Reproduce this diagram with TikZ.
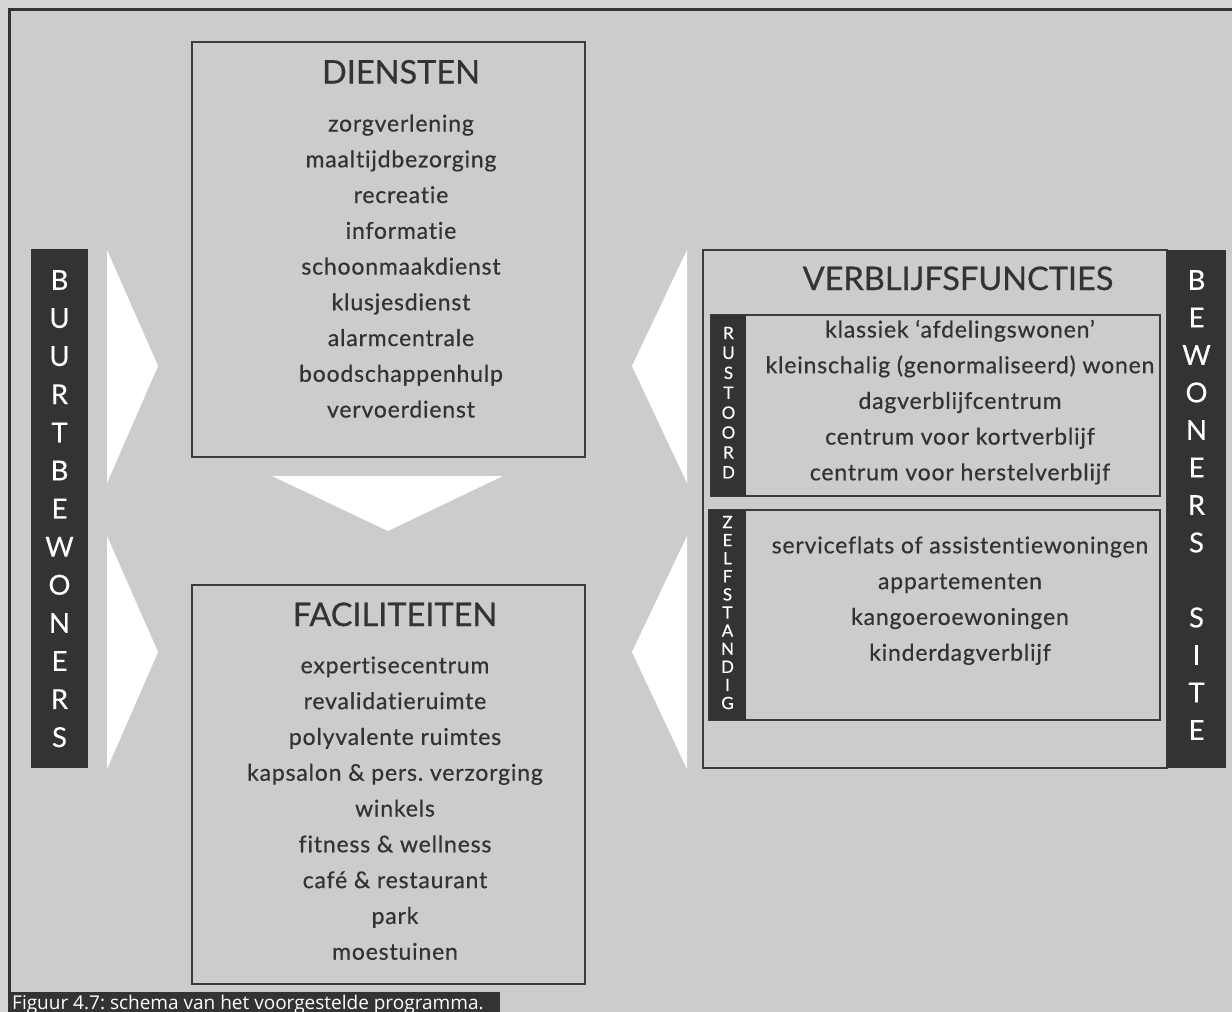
\documentclass[tikz,border=0pt]{standalone}
\usepackage{fontspec}
\setmainfont{Lato}
\newfontfamily\itemfont{Lato}[FakeBold=0.6, LetterSpace=3.5, Ligatures=NoCommon]
\newfontfamily\titlefont{Lato}[FakeBold=0.6, Ligatures=NoCommon]
\newfontfamily\letterfont{Lato}[FakeBold=0.3]
\newfontfamily\capfont{Open Sans}
\definecolor{pagebg}{HTML}{D4D5D7}
\definecolor{panel}{HTML}{CDCCCA}
\definecolor{ink}{HTML}{333333}
\definecolor{boxline}{HTML}{3C3C3C}
\tikzset{
  item/.style={text=ink, font=\itemfont\fontsize{23}{23}\selectfont, inner sep=0pt, anchor=base},
  boxtitle/.style={text=ink, font=\titlefont\fontsize{32.5}{32.5}\selectfont, inner sep=0pt, anchor=base},
  bigletter/.style={text=white, font=\letterfont\fontsize{27.5}{27.5}\selectfont, inner sep=0pt},
  smallletter/.style={text=white, font=\letterfont\fontsize{17}{17}\selectfont, inner sep=0pt},
  framebox/.style={draw=boxline, line width=2.2pt, inner sep=0pt, outer sep=0pt, anchor=north west},
  subbox/.style={draw=boxline, line width=1.8pt, inner sep=0pt, outer sep=0pt, anchor=north west},
  darkbar/.style={fill=ink, inner sep=0pt, outer sep=0pt, anchor=north west},
  arrowshape/.style={fill=white},
}
\begin{document}
\frenchspacing
\begin{tikzpicture}[x=1pt,y=-1pt]
\useasboundingbox (0,0) rectangle (1232,1012);
\fill[pagebg] (0,0) rectangle (1232,1012);
\fill[panel] (9,9) rectangle (1232,1012);
\draw[ink, line width=3pt] (9,1012) -- (9,9) -- (1232,9);

% left bar
\node[darkbar, minimum width=57pt, minimum height=519pt] (buurt) at (31,249) {};
\foreach \L [count=\k from 0] in {B,U,U,R,T,B,E,W,O,N,E,R,S}
  \node[bigletter] (bl\k) at (59.5,280+38.1*\k) {\L};

% left arrows
\fill[arrowshape] (107,250) -- (158,366) -- (107,483) -- cycle;
\fill[arrowshape] (107,536) -- (158,652) -- (107,769) -- cycle;

% DIENSTEN
\node[framebox, minimum width=393pt, minimum height=415pt] (diensten) at (192,42) {};
\node[boxtitle] (dtitle) at (401,83.5) {DIENSTEN};
\foreach \t [count=\k from 0] in {zorgverlening,maaltijdbezorging,recreatie,informatie,schoonmaakdienst,klusjesdienst,alarmcentrale,boodschappenhulp,vervoerdienst}
  \node[item] (d\k) at (401,131.5+35.75*\k) {\t};

% down arrow
\fill[arrowshape] (272,476) -- (503,476) -- (388,531) -- cycle;

% FACILITEITEN
\node[framebox, minimum width=393pt, minimum height=399pt] (facil) at (192,585) {};
\node[boxtitle] (ftitle) at (395,626) {FACILITEITEN};
\foreach \t [count=\k from 0] in {expertisecentrum,revalidatieruimte,polyvalente ruimtes,kapsalon \& pers. verzorging,winkels,fitness \& wellness,café \& restaurant,park,moestuinen}
  \node[item] (f\k) at (395,673.3+35.8*\k) {\t};

% right arrows
\fill[arrowshape] (687,250) -- (632,366) -- (687,483) -- cycle;
\fill[arrowshape] (687,536) -- (632,652) -- (687,769) -- cycle;

% VERBLIJFSFUNCTIES
\node[framebox, minimum width=464pt, minimum height=518pt] (verblijf) at (703,250) {};
\node[darkbar, minimum width=59pt, minimum height=518pt] (site) at (1167,250) {};
\foreach \L/\k in {B/0,E/1,W/2,O/3,N/4,E/5,R/6,S/7,S/9,I/10,T/11,E/12}
  \node[bigletter] (sl\k) at (1196.5,280+37.5*\k) {\L};
\node[boxtitle] (vtitle) at (958,290) {VERBLIJFSFUNCTIES};

% rustoord
\node[subbox, minimum width=449pt, minimum height=181pt] (rust) at (711,315) {};
\node[darkbar, minimum width=35pt, minimum height=181pt] (rustbar) at (711,315) {};
\foreach \L [count=\k from 0] in {R,U,S,T,O,O,R,D}
  \node[smallletter] (rl\k) at (728.5,333+19.9*\k) {\L};
\foreach \t [count=\k from 0] in {klassiek ‘afdelingswonen’,kleinschalig (genormaliseerd) wonen,dagverblijfcentrum,centrum voor kortverblijf,centrum voor herstelverblijf}
  \node[item] (r\k) at (960,337.5+35.7*\k) {\t};

% zelfstandig
\node[subbox, minimum width=451pt, minimum height=210pt] (zelf) at (709,510) {};
\node[darkbar, minimum width=37pt, minimum height=210pt] (zelfbar) at (709,510) {};
\foreach \L [count=\k from 0] in {Z,E,L,F,S,T,A,N,D,I,G}
  \node[smallletter] (zl\k) at (727.5,522+18.1*\k) {\L};
\foreach \t [count=\k from 0] in {serviceflats of assistentiewoningen,appartementen,kangoeroewoningen,kinderdagverblijf}
  \node[item] (z\k) at (960,553.3+35.8*\k) {\t};

% caption
\node[darkbar, minimum width=492pt, minimum height=20pt] (capbox) at (8,992) {};
\node[text=white, font=\capfont\fontsize{19}{19}\selectfont, inner sep=0pt, anchor=base west] (caption) at (12,1009.5) {Figuur 4.7: schema van het voorgestelde programma.};
\end{tikzpicture}
\end{document}
